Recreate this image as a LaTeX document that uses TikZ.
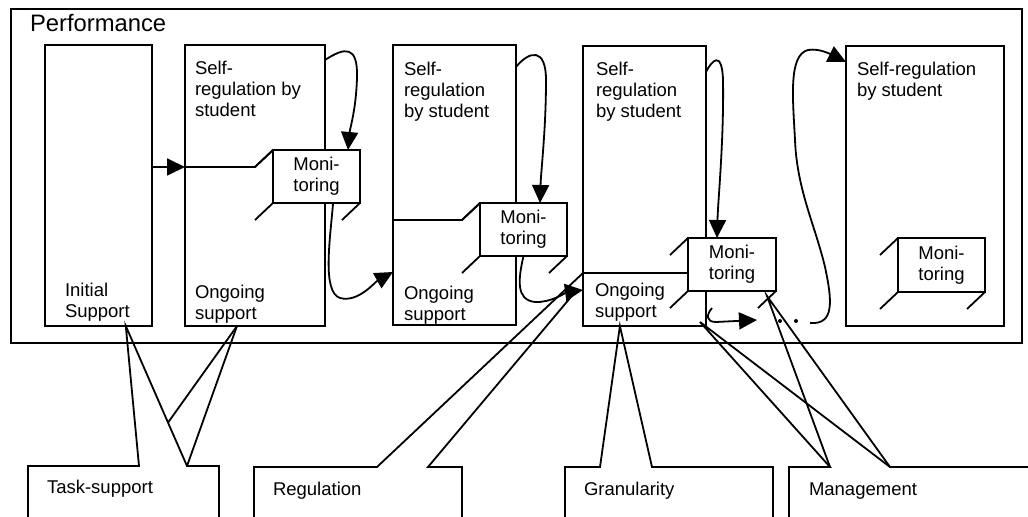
\documentclass[tikz,border=0pt]{standalone}
\usepackage{fontspec}
\setmainfont{Liberation Sans}
\usetikzlibrary{arrows.meta,calc}
\begin{document}
\begin{tikzpicture}[x=0.5pt,y=-0.5pt,
  line width=0.9pt,
  every node/.style={inner sep=0pt,outer sep=0pt},
  frame/.style={draw,rectangle},
  lbl/.style={font=\fontsize{9.25}{10.5}\selectfont,align=left},
  monbox/.style={draw,fill=white,minimum width=43.5pt,minimum height=26.5pt,align=center,font=\fontsize{9.25}{10.5}\selectfont},
  arr/.style={-{Triangle[length=9pt,width=8.5pt]}},
  callout/.style={draw,line join=miter},
  clabel/.style={anchor=base west,font=\fontsize{9.25}{10.5}\selectfont}
]
\useasboundingbox (0,0) rectangle (1028,517);
\clip (0,0) rectangle (1028,517);

% outer frame
\node[frame,minimum width=505.5pt,minimum height=167pt] (perf) at (516.5,176) {};
\node[anchor=base west,font=\fontsize{11.9}{14}\selectfont] (perftxt) at (30,32) {Performance};

% columns
\node[frame,minimum width=53.5pt,minimum height=140.5pt] (b1) at (98.5,185.5) {};
\node[frame,minimum width=70pt,minimum height=140.5pt] (b2) at (255,185.5) {};
\node[frame,minimum width=61.5pt,minimum height=140pt] (b3) at (454.5,185) {};
\node[frame,minimum width=61.5pt,minimum height=140pt] (b4) at (644.5,186) {};
\node[frame,minimum width=79pt,minimum height=140pt] (b5) at (925,186) {};

% texts in columns
\node[lbl,anchor=north west] (t1) at (65,283.5) {Initial\\Support};
\node[lbl,anchor=north west] (t2a) at (195,61.5) {Self-\\regulation by\\student};
\node[lbl,anchor=north west] (t2b) at (195,285) {Ongoing\\support};
\node[lbl,anchor=north west] (t3a) at (404,62) {Self-\\regulation\\by student};
\node[lbl,anchor=north west] (t3b) at (404,286) {Ongoing\\support};
\node[lbl,anchor=north west] (t4a) at (596,62) {Self-\\regulation\\by student};
\node[lbl,anchor=north west] (t4b) at (595,283) {Ongoing\\support};
\node[lbl,anchor=north west] (t5a) at (857,62) {Self-regulation\\by student};

% monitoring boxes
\node[monbox] (m1) at (316.5,176.5) {Moni-\\toring};
\node[monbox] (m2) at (523.5,229.5) {Moni-\\toring};
\node[monbox,minimum width=44pt] (m3) at (732,264.5) {Moni-\\toring};
\node[monbox,minimum height=27pt] (m4) at (941.5,265) {Moni-\\toring};
\foreach \m in {m1,m2,m3,m4} {
  \draw (\m.north west) -- ++(-18,17);
  \draw (\m.south west) -- ++(-18,17);
  \draw (\m.south east) -- ++(-18,17);
}

% helper coordinates
\coordinate (y272) at (0,272);
\coordinate (y290) at (0,290);
\coordinate (y62) at (0,62);
\coordinate (k3) at (0,273);

% dividers
\coordinate (k1) at ([shift={(-18,17)}]m1.north west);
\draw[arr] (b1.east |- k1) -- (b2.west |- k1);
\draw (b2.west |- k1) -- (k1) -- (m1.north west);
\coordinate (k2) at ([shift={(-18,17)}]m2.north west);
\draw (b3.west |- k2) -- (k2) -- (m2.north west);
\draw (b4.west |- k3) -- (m3.west |- k3);

% curved arrows
\draw[arr] ([shift={(0,15)}]b2.north east) .. controls (345,47) and (358,45) .. (357,78) .. controls (356,110) and (350,128) .. ([shift={(-12,0)}]m1.north east);
\draw[arr] ([shift={(-27,1)}]m1.south east) .. controls (330,240) and (322,292) .. (340,298) .. controls (358,303) and (375,282) .. (b3.west |- y272);
\draw[arr] ([shift={(0,22)}]b3.north east) .. controls (530,50) and (546,48) .. (546,80) .. controls (546,130) and (541,170) .. ([shift={(-27,0)}]m2.north east);
\draw[arr] (m2.south) .. controls (518,280) and (516,300) .. (535,302) .. controls (550,303) and (568,292) .. (b4.west |- y290);
\draw[arr] ([shift={(0,26)}]b4.north east) .. controls (712,60) and (722,50) .. (723,80) .. controls (724,140) and (718,200) .. ([shift={(-59,0)}]m3.north east);

\coordinate (g0) at (712,308);
\coordinate (g1) at (757,320);
\draw[arr] (g0) .. controls (706,315) and (706,322) .. (716,322) -- (g1);
\fill (780,321) circle[radius=1pt];
\fill (796,321) circle[radius=1pt];
\coordinate (h0) at (810,323);
\draw[arr] (h0) .. controls (835,325) and (832,300) .. (825,267) .. controls (815,225) and (797,190) .. (795,140) .. controls (793,100) and (788,55) .. (808,50) .. controls (820,48) and (832,55) .. (b5.west |- y62);

% callout: Task-support
\coordinate (a1) at ($(b1.south west)!0.755!(b1.south east)$);
\coordinate (a2) at ([shift={(-18,0)}]b2.south);
\coordinate (ts1) at (139,466);
\coordinate (ts2) at (187,466);
\draw[callout] (28,520) -- (28,466) -- (ts1) -- (a1) -- (ts2) -- (219,466) -- (219,520);
\draw (a2) -- (ts2);
\draw (a2) -- ($(a1)!0.69!(ts2)$);
\node[clabel] (lts) at (47,494) {Task-support};

% callout: Regulation
\coordinate (rg1) at (377,467);
\coordinate (rg2) at (428,467);
\coordinate (ra1) at (b4.west |- k3);
\coordinate (ra2) at (576,291);
\draw[callout] (254,520) -- (254,467) -- (rg1) -- (ra1);
\draw[callout] (ra2) -- (rg2) -- (462,467) -- (462,520);
\node[clabel] (lrg) at (273,496) {Regulation};

% callout: Granularity
\coordinate (ga) at ($(b4.south west)!0.3!(b4.south east)$);
\draw[callout] (565,520) -- (565,467) -- (600,467) -- (ga) -- (652,467) -- (773,467) -- (773,520);
\node[clabel] (lgr) at (584,496) {Granularity};

% callout: Management
\coordinate (ma1) at ([shift={(-6,-4)}]b4.south east);
\coordinate (ma2) at (767,296);
\coordinate (mg1) at (830,467);
\coordinate (mg2) at (890,467);
\draw[callout] (789,520) -- (789,467) -- (mg1) -- (ma1) -- (mg2) -- (1030,467);
\draw (mg1) -- (ma2) -- (mg2);
\node[clabel] (lmg) at (809,496) {Management};
\end{tikzpicture}
\end{document}
